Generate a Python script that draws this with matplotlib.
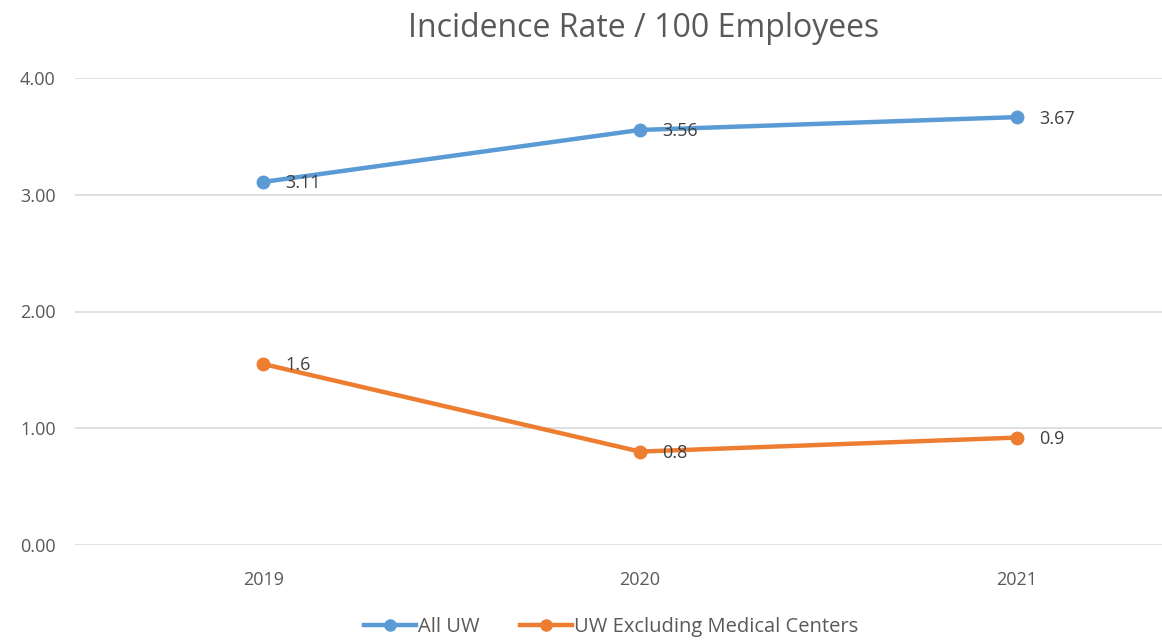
import matplotlib.pyplot as plt
from matplotlib.lines import Line2D

plt.rcParams['font.family'] = ['Open Sans', 'DejaVu Sans']

years = ['2019', '2020', '2021']
all_uw = [3.11, 3.555, 3.665]
all_uw_labels = ['3.11', '3.56', '3.67']
uw_excl = [1.55, 0.80, 0.92]
uw_excl_labels = ['1.6', '0.8', '0.9']

blue = '#5B9BD5'
orange = '#ED7D31'
text_grey = '#595959'

fig = plt.figure(figsize=(11.62, 6.4), dpi=100)
# plot area runs past the right edge of the picture, as in the reference
ax = fig.add_axes([75 / 1162, 95 / 640, 1130 / 1162, 467 / 640])

x = range(len(years))
ax.plot(x, all_uw, color=blue, lw=3.2, marker='o', ms=9, solid_capstyle='round', zorder=3)
ax.plot(x, uw_excl, color=orange, lw=3.2, marker='o', ms=9, solid_capstyle='round', zorder=3)

for xi, yv, lab in zip(x, all_uw, all_uw_labels):
    ax.annotate(lab, (xi, yv), xytext=(16, -1), textcoords='offset points',
                ha='left', va='center', fontsize=13, color='#404040', zorder=4)
for xi, yv, lab in zip(x, uw_excl, uw_excl_labels):
    ax.annotate(lab, (xi, yv), xytext=(16, -1), textcoords='offset points',
                ha='left', va='center', fontsize=13, color='#404040', zorder=4)

ax.set_xlim(-0.5, 2.5)
ax.set_ylim(0, 4)
ax.set_xticks(list(x))
ax.set_xticklabels(years)
ax.set_yticks([0, 1, 2, 3, 4])
ax.set_yticklabels(['%.2f' % v for v in [0, 1, 2, 3, 4]])
ax.tick_params(length=0, labelsize=13, labelcolor=text_grey, pad=19)
ax.tick_params(axis='y', pad=14)
ax.grid(axis='y', color='#D9D9D9', lw=1.2)
ax.set_axisbelow(True)
for s in ax.spines.values():
    s.set_visible(False)

fig.text(0.554, 0.956, 'Incidence Rate / 100 Employees', ha='center', va='center',
         fontsize=23, color=text_grey)

handles = [Line2D([], [], color=blue, lw=3.2, marker='o', ms=8),
           Line2D([], [], color=orange, lw=3.2, marker='o', ms=8)]
fig.legend(handles, ['All UW', 'UW Excluding Medical Centers'], loc='center',
           bbox_to_anchor=(0.526, 0.02), ncol=2, frameon=False, fontsize=14.5,
           handlelength=2.6, handletextpad=0.1, columnspacing=2.0,
           labelcolor=text_grey)

fig.savefig('out.png', dpi=100)
